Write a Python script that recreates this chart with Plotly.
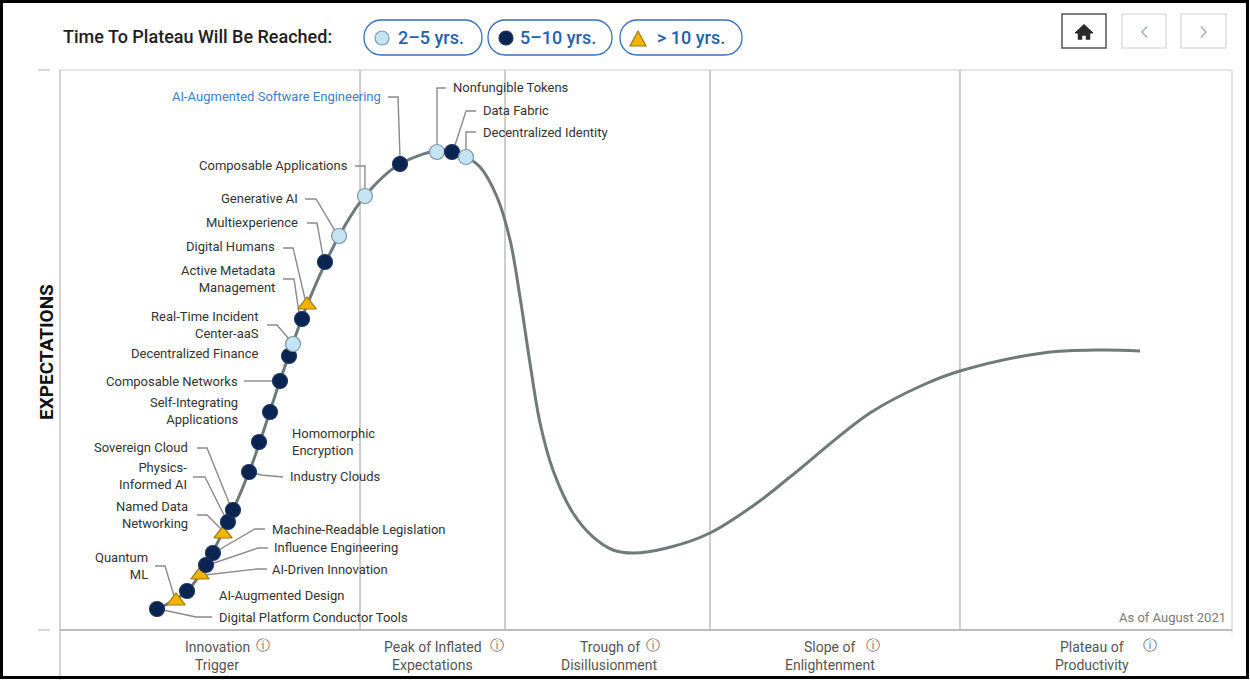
import plotly.graph_objects as go

# ---------------------------------------------------------------------------
# Data: technology profiles on the hype cycle (time axis 0-100, expectations 0-100)
# ---------------------------------------------------------------------------
tech_names = [
    "Digital Platform Conductor Tools",
    "Quantum<br>ML",
    "AI-Augmented Design",
    "AI-Driven Innovation",
    "Influence Engineering",
    "Machine-Readable Legislation",
    "Named Data<br>Networking",
    "Physics-<br>Informed AI",
    "Sovereign Cloud",
    "Industry Clouds",
    "Homomorphic<br>Encryption",
    "Self-Integrating<br>Applications",
    "Composable Networks",
    "Decentralized Finance",
    "Real-Time Incident<br>Center-aaS",
    "Active Metadata<br>Management",
    "Digital Humans",
    "Multiexperience",
    "Generative AI",
    "Composable Applications",
    "AI-Augmented Software Engineering",
    "Nonfungible Tokens",
    "Data Fabric",
    "Decentralized Identity",
]
tech_time = [8.28, 9.90, 10.84, 11.95, 12.46, 13.05, 13.91, 14.33, 14.76, 16.13,
             16.98, 17.92, 18.77, 19.54, 19.88, 20.65, 21.08, 22.61, 23.81, 26.02,
             29.01, 32.17, 33.45, 34.64]
tech_expectation = [3.75, 5.18, 6.96, 9.82, 11.61, 13.75, 17.14, 19.29, 21.43, 28.21,
                    33.57, 38.93, 44.46, 48.93, 51.07, 55.54, 58.04, 65.71, 70.36, 77.50,
                    83.21, 85.36, 85.36, 84.46]
tech_plateau = ["5-10", ">10", "5-10", ">10", "5-10", "5-10", ">10", "5-10", "5-10", "5-10",
                "5-10", "5-10", "5-10", "5-10", "2-5", "5-10", ">10", "5-10", "2-5", "2-5",
                "5-10", "2-5", "5-10", "2-5"]

# Hype cycle curve
curve_time = [8.28, 10.84, 12.97, 16.13, 18.77, 21.08, 23.81, 26.02, 29.01, 32.85,
              34.64, 35.84, 37.29, 38.40, 39.25, 40.10, 40.96, 42.06, 43.77, 45.48,
              47.18, 48.89, 51.79, 55.46, 59.47, 62.29, 69.11, 73.63, 76.79,
              83.87, 88.74, 92.15]
curve_expectation = [3.75, 6.96, 13.75, 28.21, 44.46, 58.04, 70.36, 77.50, 83.21, 85.71,
                     84.46, 82.68, 77.32, 69.64, 59.46, 47.68, 36.96, 28.57, 20.89, 16.61,
                     14.29, 13.75, 14.64, 17.32, 22.68, 27.32, 38.75, 43.75, 46.25,
                     49.46, 50.00, 49.82]

# Phases
phase_line1 = ["Innovation", "Peak of Inflated", "Trough of", "Slope of", "Plateau of"]
phase_line2 = ["Trigger", "Expectations", "Disillusionment", "Enlightenment", "Productivity"]
phase_bounds = [0, 25.60, 37.97, 55.46, 76.79, 100]

legend_title = "Time To Plateau Will Be Reached:"
legend_keys = ["2-5", "5-10", ">10"]
legend_labels = ["2\u20135 yrs.", "5\u201310 yrs.", "> 10 yrs."]

# ---------------------------------------------------------------------------
# Layout geometry and styles
# ---------------------------------------------------------------------------
FIG_W, FIG_H = 1250, 680
M_L, M_R, M_T, M_B = 60, 18, 70, 50
PLOT_W = FIG_W - M_L - M_R
PLOT_H = FIG_H - M_T - M_B
UX = PLOT_W / 100.0   # pixels per time unit
UY = PLOT_H / 100.0   # pixels per expectation unit

FONT = "Roboto, 'Open Sans', sans-serif"

MARKER_STYLE = {
    "2-5": dict(symbol="circle", color="#c4e4f3", line="#7f98a4", size=15),
    "5-10": dict(symbol="circle", color="#0a2552", line="#1f3763", size=15),
    ">10": dict(symbol="triangle-up", color="#f3b400", line="#9c7b18", size=16),
}

# label placement: side, text offset (px) from the marker, leader polyline (px offsets)
LABEL_LAYOUT = [
    ("left", 60, 8, [(55, 8), (39, 8), (6, 1)]),
    ("right", -26, -35, [(-21, -35), (-11, -35), (-2, -5)]),
    ("left", 30, 4, None),
    ("left", 70, -6, [(67, -6), (57, -6), (5, 0)]),
    ("left", 66, -17, [(62, -17), (52, -17), (5, -1)]),
    ("left", 57, -24, [(52, -24), (42, -24), (4, -2)]),
    ("right", -33, -19, [(-26, -19), (-16, -19), (-2, -5)]),
    ("right", -39, -46, [(-35, -45), (-23, -45), (-3, -5)]),
    ("right", -43, -62, [(-36, -62), (-26, -62), (-3, -5)]),
    ("left", 39, 4, [(34, 5), (12, 3), (5, 1)]),
    ("left", 31, 0, None),
    ("right", -30, -1, None),
    ("right", -40, 0, [(-36, 0), (-6, 0)]),
    ("right", -29, -2, None),
    ("right", -32, -19, [(-26, -19), (-16, -19), (-4, -5)]),
    ("right", -25, -40, [(-19, -40), (-8, -40), (-3, -6)]),
    ("right", -30, -58, [(-24, -57), (-14, -57), (-2, -6)]),
    ("right", -25, -40, [(-18, -39), (-8, -39), (-2, -6)]),
    ("right", -39, -37, [(-34, -37), (-23, -37), (-4, -5)]),
    ("right", -15, -31, [(-10, -30), (0, -30), (0, -7)]),
    ("right", -17, -68, [(-12, -67), (-2, -67), (0, -7)]),
    ("left", 14, -64, [(9, -64), (0, -64), (0, -7)]),
    ("left", 29, -41, [(24, -41), (14, -41), (3, -7)]),
    ("left", 15, -25, [(10, -25), (0, -25), (0, -7)]),
]
HIGHLIGHT = {"AI-Augmented Software Engineering": "#3b7fca"}

# phase label shifts (px) from each phase centre, and info-icon offsets from the label
PHASE_LABEL_DX = [7, 0, 2, -5, -4]
PHASE_ICON_DX = [46, 64, 43, 43, 58]


def px(x):
    """page pixel x -> paper coordinate"""
    return (x - M_L) / PLOT_W


def py(y):
    """page pixel y -> paper coordinate"""
    return (M_T + PLOT_H - y) / PLOT_H


def rounded_path(x0, y0, x1, y1, r):
    k = 0.5523 * r
    pts = [
        f"M {px(x0 + r)},{py(y0)}",
        f"L {px(x1 - r)},{py(y0)}",
        f"C {px(x1 - r + k)},{py(y0)} {px(x1)},{py(y0 + r - k)} {px(x1)},{py(y0 + r)}",
        f"L {px(x1)},{py(y1 - r)}",
        f"C {px(x1)},{py(y1 - r + k)} {px(x1 - r + k)},{py(y1)} {px(x1 - r)},{py(y1)}",
        f"L {px(x0 + r)},{py(y1)}",
        f"C {px(x0 + r - k)},{py(y1)} {px(x0)},{py(y1 - r + k)} {px(x0)},{py(y1 - r)}",
        f"L {px(x0)},{py(y0 + r)}",
        f"C {px(x0)},{py(y0 + r - k)} {px(x0 + r - k)},{py(y0)} {px(x0 + r)},{py(y0)}",
        "Z",
    ]
    return " ".join(pts)


def poly_path(points, close=False):
    s = " ".join(("M" if i == 0 else "L") + f" {px(a)},{py(b)}" for i, (a, b) in enumerate(points))
    return s + (" Z" if close else "")


fig = go.Figure()

# curve
fig.add_trace(go.Scatter(
    x=curve_time, y=curve_expectation, mode="lines",
    line=dict(color="#6f7a79", width=3, shape="spline", smoothing=1.0),
    hoverinfo="skip", showlegend=False,
))

# leader lines
lx, ly = [], []
for t, e, (side, dx, dy, leader) in zip(tech_time, tech_expectation, LABEL_LAYOUT):
    if not leader:
        continue
    for (ox, oy) in leader:
        lx.append(t + ox / UX)
        ly.append(e - oy / UY)
    lx.append(None)
    ly.append(None)
fig.add_trace(go.Scatter(
    x=lx, y=ly, mode="lines", line=dict(color="#8a8a8a", width=1.4),
    hoverinfo="skip", showlegend=False,
))

# technology markers
fig.add_trace(go.Scatter(
    x=tech_time, y=tech_expectation, mode="markers",
    marker=dict(
        symbol=[MARKER_STYLE[c]["symbol"] for c in tech_plateau],
        color=[MARKER_STYLE[c]["color"] for c in tech_plateau],
        size=[MARKER_STYLE[c]["size"] for c in tech_plateau],
        opacity=1,
        line=dict(color=[MARKER_STYLE[c]["line"] for c in tech_plateau], width=1.2),
    ),
    text=[n.replace("<br>", " ") for n in tech_names],
    hovertemplate="%{text}<extra></extra>",
    showlegend=False,
))

annotations = []

# technology labels
for name, t, e, (side, dx, dy, leader) in zip(tech_names, tech_time, tech_expectation, LABEL_LAYOUT):
    annotations.append(dict(
        x=t + dx / UX, y=e - dy / UY, xref="x", yref="y",
        text=name, showarrow=False,
        xanchor=side, yanchor="middle", align=side,
        font=dict(family=FONT, size=13, color=HIGHLIGHT.get(name, "#333333")),
    ))

# phase labels along the bottom
shapes = []
for i in range(5):
    xc = (phase_bounds[i] + phase_bounds[i + 1]) / 2 + PHASE_LABEL_DX[i] / UX
    annotations.append(dict(x=xc, y=py(647), xref="x", yref="paper", text=phase_line1[i],
                            showarrow=False, xanchor="center", yanchor="middle",
                            font=dict(family=FONT, size=14, color="#555555")))
    annotations.append(dict(x=xc, y=py(665), xref="x", yref="paper", text=phase_line2[i],
                            showarrow=False, xanchor="center", yanchor="middle",
                            font=dict(family=FONT, size=14, color="#555555")))
    annotations.append(dict(x=xc + PHASE_ICON_DX[i] / UX, y=py(645), xref="x", yref="paper",
                            text="\u24d8", showarrow=False, xanchor="center", yanchor="middle",
                            font=dict(family="DejaVu Sans", size=14, color="#666666")))

# phase separators
for b in phase_bounds[1:-1]:
    shapes.append(dict(type="line", xref="x", yref="y", x0=b, x1=b, y0=100, y1=-0.6,
                       line=dict(color="#bdbdbd", width=1.5), layer="below"))

# panel frame
shapes += [
    dict(type="line", xref="paper", yref="paper", x0=0, x1=1, y0=1, y1=1,
         line=dict(color="#dedede", width=1.5), layer="below"),
    dict(type="line", xref="paper", yref="paper", x0=1, x1=1, y0=1, y1=py(633),
         line=dict(color="#dedede", width=1.5), layer="below"),
    dict(type="line", xref="paper", yref="paper", x0=0, x1=0, y0=1, y1=py(680),
         line=dict(color="#c4c4c4", width=1.5), layer="below"),
    dict(type="line", xref="paper", yref="paper", x0=0, x1=1, y0=0, y1=0,
         line=dict(color="#bdbdbd", width=2), layer="below"),
    dict(type="line", xref="paper", yref="paper", x0=px(38), x1=px(50), y0=py(70), y1=py(70),
         line=dict(color="#c8c8c8", width=1.5)),
    dict(type="line", xref="paper", yref="paper", x0=px(38), x1=px(50), y0=py(630), y1=py(630),
         line=dict(color="#c8c8c8", width=1.5)),
    # outer frame
    dict(type="rect", xref="paper", yref="paper", x0=px(1.5), x1=px(1247.5), y0=py(1.5), y1=py(677.5),
         line=dict(color="#000000", width=3)),
]

# y-axis title
annotations.append(dict(x=px(46), y=py(352), xref="paper", yref="paper", text="<b>EXPECTATIONS</b>",
                        textangle=-90, showarrow=False, xanchor="center", yanchor="middle",
                        font=dict(family=FONT, size=19, color="#111111")))

annotations.append(dict(x=px(1228), y=py(617), xref="paper", yref="paper", text="As of August 2021",
                        showarrow=False, xanchor="right", yanchor="middle",
                        font=dict(family=FONT, size=13, color="#7a7a7a")))

# legend header
annotations.append(dict(x=px(61), y=py(37), xref="paper", yref="paper", text=legend_title,
                        showarrow=False, xanchor="left", yanchor="middle",
                        font=dict(family=FONT, size=18, color="#1e1e1e", weight=500)))

pill_boxes = [(364, 482), (488, 612), (620, 742)]
text_left = [396, 518, 655]
for key, label, (x0, x1), tl in zip(legend_keys, legend_labels, pill_boxes, text_left):
    shapes.append(dict(type="path", xref="paper", yref="paper",
                       path=rounded_path(x0, 20, x1, 55, 17),
                       line=dict(color="#3670b8", width=1.3), fillcolor="white"))
    st = MARKER_STYLE[key]
    mx = x0 + 18
    if st["symbol"] == "circle":
        shapes.append(dict(type="circle", xref="paper", yref="paper",
                           x0=px(mx - 7), x1=px(mx + 7), y0=py(45), y1=py(31),
                           fillcolor=st["color"], line=dict(color=st["line"], width=1.2)))
    else:
        shapes.append(dict(type="path", xref="paper", yref="paper",
                           path=poly_path([(mx - 8, 46), (mx + 8, 46), (mx, 31)], close=True),
                           fillcolor=st["color"], line=dict(color=st["line"], width=1.2)))
    annotations.append(dict(x=px(tl), y=py(38), xref="paper", yref="paper", text=label,
                            showarrow=False, xanchor="left", yanchor="middle",
                            font=dict(family=FONT, size=18, color="#2462ad", weight=500)))

# navigation buttons
shapes += [
    dict(type="rect", xref="paper", yref="paper", x0=px(1062), x1=px(1106), y0=py(14), y1=py(48),
         line=dict(color="#555555", width=1.5), fillcolor="white"),
    dict(type="rect", xref="paper", yref="paper", x0=px(1122), x1=px(1166), y0=py(14), y1=py(48),
         line=dict(color="#d2d2d2", width=1.2), fillcolor="white"),
    dict(type="rect", xref="paper", yref="paper", x0=px(1181), x1=px(1226), y0=py(14), y1=py(48),
         line=dict(color="#d2d2d2", width=1.2), fillcolor="white"),
    # home icon
    dict(type="path", xref="paper", yref="paper",
         path=poly_path([(1075, 33), (1084, 24.5), (1093, 33)], close=True),
         fillcolor="#2b2b2b", line=dict(color="#2b2b2b", width=1)),
    dict(type="path", xref="paper", yref="paper",
         path=poly_path([(1078, 32), (1090, 32), (1090, 39.5), (1086, 39.5), (1086, 35.5),
                         (1082, 35.5), (1082, 39.5), (1078, 39.5)], close=True),
         fillcolor="#2b2b2b", line=dict(color="#2b2b2b", width=0.5)),
    # chevrons
    dict(type="path", xref="paper", yref="paper",
         path=poly_path([(1147, 26.5), (1142, 32), (1147, 37.5)]),
         line=dict(color="#a7b1be", width=1.5)),
    dict(type="path", xref="paper", yref="paper",
         path=poly_path([(1201, 26.5), (1206, 32), (1201, 37.5)]),
         line=dict(color="#a7b1be", width=1.5)),
]

fig.update_layout(
    width=FIG_W, height=FIG_H,
    margin=dict(l=M_L, r=M_R, t=M_T, b=M_B, pad=0),
    paper_bgcolor="white", plot_bgcolor="white",
    xaxis=dict(range=[0, 100], visible=False, fixedrange=True),
    yaxis=dict(range=[0, 100], visible=False, fixedrange=True),
    showlegend=False,
    annotations=annotations,
    shapes=shapes,
    font=dict(family=FONT),
)

fig.write_html("out.html", config={"displayModeBar": False})
